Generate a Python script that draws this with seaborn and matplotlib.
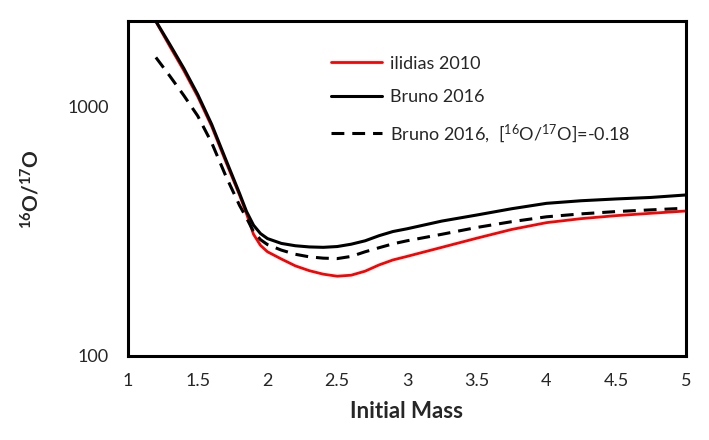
import numpy as np
import pandas as pd
import matplotlib
matplotlib.use("Agg")
import matplotlib.pyplot as plt
from matplotlib.ticker import FixedLocator, NullFormatter, FixedFormatter
import seaborn as sns

# Initial mass grid (same for every series)
mass = [1.2, 1.3, 1.4, 1.5, 1.6, 1.7, 1.8, 1.85, 1.9, 1.95, 2.0, 2.1, 2.2,
        2.3, 2.4, 2.5, 2.6, 2.7, 2.8, 2.9, 3.0, 3.25, 3.5, 3.75, 4.0, 4.25,
        4.5, 4.75, 5.0]

# 16O/17O ratios
ilidias_2010 = [2200, 1750, 1400, 1100, 835, 605, 442, 372, 308, 278, 262,
                245, 230, 220, 213, 209, 211, 219, 232, 243, 251, 273, 297,
                322, 343, 356, 366, 374, 382]
bruno_2016 = [2210, 1782, 1429, 1122, 851, 617, 449, 380, 335, 310, 296,
              283, 277, 274, 273, 275, 281, 290, 304, 316, 324, 348, 368,
              390, 410, 420, 427, 433, 443]
bruno_2016_low = [1580, 1330, 1112, 920, 718, 530, 402, 358, 316, 293, 280,
                  266, 256, 250, 247, 246, 251, 262, 272, 282, 290, 308, 328,
                  346, 362, 372, 380, 386, 392]

x_ticks = [1, 1.5, 2, 2.5, 3, 3.5, 4, 4.5, 5]
x_tick_labels = ["1", "1.5", "2", "2.5", "3", "3.5", "4", "4.5", "5"]
y_major = [100, 1000]
y_minor = [200, 300, 400, 500, 600, 700, 800, 900, 2000]


def main():
    sns.set_style("white")
    plt.rcParams["font.family"] = ["Lato", "DejaVu Sans"]
    plt.rcParams["mathtext.fontset"] = "custom"
    plt.rcParams["mathtext.rm"] = "Lato"
    plt.rcParams["mathtext.it"] = "Lato:italic"
    plt.rcParams["mathtext.bf"] = "Lato:bold"

    df = pd.DataFrame({"mass": mass, "ilidias": ilidias_2010,
                       "bruno": bruno_2016, "bruno_low": bruno_2016_low})

    fig = plt.figure(figsize=(7.09, 4.4), dpi=100)
    ax = fig.add_axes([0.1805, 0.191, 0.787, 0.761])

    sns.lineplot(data=df, x="mass", y="ilidias", ax=ax, color="#ff0000",
                 linewidth=2.0, label="ilidias 2010")
    sns.lineplot(data=df, x="mass", y="bruno", ax=ax, color="black",
                 linewidth=2.2, label="Bruno 2016")
    line = sns.lineplot(data=df, x="mass", y="bruno_low", ax=ax,
                        color="black", linewidth=2.2,
                        label=r"Bruno 2016,  [$^{16}$O/$^{17}$O]=-0.18")
    line.lines[-1].set_dashes((4.2, 2.6))

    ax.set_yscale("log")
    ax.set_xlim(1, 5)
    ax.set_ylim(100, 2210)

    ax.xaxis.set_major_locator(FixedLocator(x_ticks))
    ax.xaxis.set_major_formatter(FixedFormatter(x_tick_labels))
    ax.yaxis.set_major_locator(FixedLocator(y_major))
    ax.yaxis.set_major_formatter(FixedFormatter(["100", "1000"]))
    ax.yaxis.set_minor_locator(FixedLocator(y_minor))
    ax.yaxis.set_minor_formatter(NullFormatter())
    ax.tick_params(axis="both", which="major", direction="in", length=5,
                   width=2, labelsize=13, right=False, top=False)
    ax.tick_params(axis="x", which="major", pad=12)
    ax.tick_params(axis="y", which="major", direction="inout", length=8,
                   pad=10)
    ax.tick_params(axis="y", which="minor", direction="in", length=4,
                   width=2, right=False)

    for spine in ax.spines.values():
        spine.set_linewidth(2.2)
        spine.set_color("black")

    ax.set_xlabel("Initial Mass", fontsize=16, fontweight="bold", labelpad=9)
    ax.set_ylabel(r"$\mathbf{^{16}O/^{17}O}$", fontsize=15, labelpad=17)

    ax.legend(loc="upper left", bbox_to_anchor=(0.335, 0.945), frameon=False,
              fontsize=13, handlelength=2.8, handletextpad=0.45,
              labelspacing=0.95)

    fig.savefig("out.png", dpi=100)


if __name__ == "__main__":
    main()
